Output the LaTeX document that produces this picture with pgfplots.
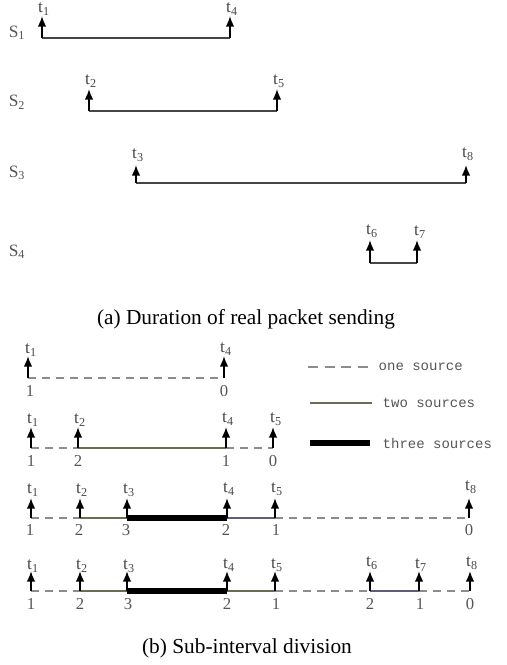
\documentclass[border=0pt]{standalone}
\usepackage{fontspec}
\setmainfont{Liberation Serif}
\setmonofont{Liberation Mono}
\usepackage{pgfplots}
\pgfplotsset{compat=1.18}
\usetikzlibrary{arrows.meta}
\definecolor{lineg}{HTML}{454545}
\definecolor{dashg}{HTML}{8C8C8C}
\definecolor{oliveg}{HTML}{6C6C56}
\definecolor{blueg}{HTML}{5E5E7A}
\definecolor{txtg}{HTML}{555555}
\definecolor{tg}{HTML}{484848}
\newcommand{\tl}[1]{t\textsubscript{#1}}
\newcommand{\srcl}[1]{S\textsubscript{#1}}
% one upward time-point arrow: x, base y, tip y
\newcommand{\uparr}[3]{\addplot[arr] coordinates {(#1,#2) (#1,#3)};}
\tikzset{
  tlab/.style={font=\fontsize{13}{15}\selectfont, text=tg, inner sep=0pt},
  num/.style={font=\fontsize{12.5}{14}\selectfont, text=txtg, inner sep=0pt},
  slab/.style={font=\fontsize{13}{15}\selectfont, text=txtg, inner sep=0pt},
  leg/.style={anchor=west, font=\ttfamily\fontsize{10.5}{12}\selectfont, text=txtg},
}

\begin{document}
\begin{tikzpicture}
\begin{axis}[
  width=380.25pt, height=498.75pt, scale only axis,
  xmin=0, xmax=507, ymin=0, ymax=665, y dir=reverse,
  hide axis, clip=false,
  arr/.style={black, line width=1.3pt, -{Latex[length=8pt,width=6.5pt]}},
  dsh/.style={dashg, line width=1pt, dash pattern=on 6pt off 4.5pt},
  two/.style={oliveg, line width=1.8pt},
  twob/.style={blueg, line width=1.8pt},
  three/.style={black, line width=4.2pt},
]
% page frame
\addplot[draw=none] coordinates {(0,0) (507,665)};

% ---------- (a) duration of real packet sending ----------
\addplot[lineg, line width=1.4pt] coordinates {(42,38) (230,38)};
\addplot[lineg, line width=1.4pt] coordinates {(89,111) (277,111)};
\addplot[lineg, line width=1.4pt] coordinates {(136,183) (466,183)};
\addplot[lineg, line width=1.4pt] coordinates {(370,263) (417,263)};
\uparr{42}{38}{16}
\uparr{230}{38}{16}
\uparr{89}{111}{89}
\uparr{277}{111}{89}
\uparr{136}{183}{165}
\uparr{466}{183}{165}
\uparr{370}{263}{240}
\uparr{417}{263}{240}

\node[slab] at (axis cs:17,33) {\srcl{1}};
\node[slab] at (axis cs:17,102) {\srcl{2}};
\node[slab] at (axis cs:17,173) {\srcl{3}};
\node[slab] at (axis cs:17,252) {\srcl{4}};

\node[tlab] at (axis cs:44,9) {\tl{1}};
\node[tlab] at (axis cs:232,9) {\tl{4}};
\node[tlab] at (axis cs:91,81) {\tl{2}};
\node[tlab] at (axis cs:279,81) {\tl{5}};
\node[tlab] at (axis cs:138,155) {\tl{3}};
\node[tlab] at (axis cs:468,154) {\tl{8}};
\node[tlab] at (axis cs:372,231) {\tl{6}};
\node[tlab] at (axis cs:420,232) {\tl{7}};

\node[font=\fontsize{16}{19}\selectfont] at (axis cs:246,319) {(a) Duration of real packet sending};

% ---------- (b) sub-interval division ----------
% row 1
\addplot[dsh] coordinates {(28,378) (224,378)};
% row 2
\addplot[dsh] coordinates {(31,448) (78,448)};
\addplot[two] coordinates {(78,448) (226,448)};
\addplot[dsh] coordinates {(226,448) (273,448)};
% row 3
\addplot[dsh] coordinates {(31,518) (80,518)};
\addplot[two] coordinates {(80,518) (127,518)};
\addplot[three] coordinates {(127,518) (227,518)};
\addplot[twob] coordinates {(227,518) (275,518)};
\addplot[dsh] coordinates {(275,518) (469,518)};
% row 4
\addplot[dsh] coordinates {(31,591) (80,591)};
\addplot[two] coordinates {(80,591) (127,591)};
\addplot[three] coordinates {(127,591) (227,591)};
\addplot[two] coordinates {(227,591) (275,591)};
\addplot[dsh] coordinates {(275,591) (370,591)};
\addplot[twob] coordinates {(370,591) (419,591)};
\addplot[dsh] coordinates {(419,591) (470,591)};

\uparr{28}{378}{356}
\uparr{224}{378}{356}
\uparr{31}{448}{427}
\uparr{78}{448}{427}
\uparr{226}{448}{427}
\uparr{273}{448}{427}
\uparr{31}{518}{498}
\uparr{80}{518}{498}
\uparr{127}{518}{498}
\uparr{227}{518}{498}
\uparr{275}{518}{498}
\uparr{469}{518}{498}
\uparr{31}{591}{571}
\uparr{80}{591}{571}
\uparr{127}{591}{571}
\uparr{227}{591}{571}
\uparr{275}{591}{571}
\uparr{370}{591}{571}
\uparr{419}{591}{571}
\uparr{470}{591}{571}

% time labels
\node[tlab] at (axis cs:31,350) {\tl{1}};
\node[tlab] at (axis cs:226,349) {\tl{4}};
\node[tlab] at (axis cs:33,420) {\tl{1}};
\node[tlab] at (axis cs:80,420) {\tl{2}};
\node[tlab] at (axis cs:228,419) {\tl{4}};
\node[tlab] at (axis cs:276,419) {\tl{5}};
\node[tlab] at (axis cs:33,490) {\tl{1}};
\node[tlab] at (axis cs:82,490) {\tl{2}};
\node[tlab] at (axis cs:129,490) {\tl{3}};
\node[tlab] at (axis cs:229,489) {\tl{4}};
\node[tlab] at (axis cs:277,489) {\tl{5}};
\node[tlab] at (axis cs:471,487) {\tl{8}};
\node[tlab] at (axis cs:33,566) {\tl{1}};
\node[tlab] at (axis cs:82,566) {\tl{2}};
\node[tlab] at (axis cs:129,566) {\tl{3}};
\node[tlab] at (axis cs:229,565) {\tl{4}};
\node[tlab] at (axis cs:277,565) {\tl{5}};
\node[tlab] at (axis cs:372,563) {\tl{6}};
\node[tlab] at (axis cs:421,565) {\tl{7}};
\node[tlab] at (axis cs:472,563) {\tl{8}};

% source counts
\node[num] at (axis cs:30,391) {1};
\node[num] at (axis cs:224,391) {0};
\node[num] at (axis cs:31,461) {1};
\node[num] at (axis cs:78,461) {2};
\node[num] at (axis cs:226,461) {1};
\node[num] at (axis cs:273,461) {0};
\node[num] at (axis cs:30,530) {1};
\node[num] at (axis cs:79,530) {2};
\node[num] at (axis cs:126,530) {3};
\node[num] at (axis cs:226,530) {2};
\node[num] at (axis cs:276,530) {1};
\node[num] at (axis cs:469,530) {0};
\node[num] at (axis cs:31,604) {1};
\node[num] at (axis cs:80,604) {2};
\node[num] at (axis cs:128,604) {3};
\node[num] at (axis cs:227,604) {2};
\node[num] at (axis cs:276,604) {1};
\node[num] at (axis cs:370,604) {2};
\node[num] at (axis cs:420,604) {1};
\node[num] at (axis cs:470,604) {0};

% legend
\addplot[dashg, line width=1pt, dash pattern=on 7.5pt off 5pt] coordinates {(308,367) (372,367)};
\addplot[oliveg, line width=1.2pt] coordinates {(310,403) (372,403)};
\addplot[three] coordinates {(310,443) (370,443)};
\node[leg] at (axis cs:374,367) {one source};
\node[leg] at (axis cs:378,403) {two sources};
\node[leg] at (axis cs:378,443) {three sources};

\node[font=\fontsize{16}{19}\selectfont] at (axis cs:247,648) {(b) Sub-interval division};
\end{axis}
\end{tikzpicture}
\end{document}
